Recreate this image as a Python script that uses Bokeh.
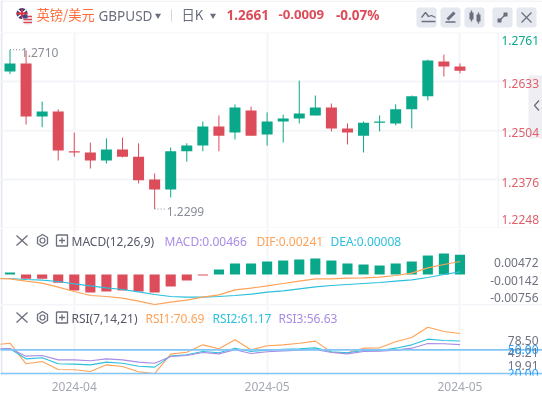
from bokeh.embed import file_html
from bokeh.resources import INLINE
from bokeh.plotting import figure
from bokeh.layouts import column
from bokeh.models import Range1d, FixedTicker, LinearAxis
from bokeh.core.properties import value

# ---------- data ----------
opens  = [1.2659,1.2680,1.2541,1.2554,1.2450,1.2447,1.2426,1.2455,1.2436,1.2376,1.2350,1.2450,1.2465,1.2515,1.2499,1.2557,1.2494,1.2528,1.2536,1.2544,1.2565,1.2510,1.2491,1.2525,1.2523,1.2560,1.2594,1.2685,1.2672]
closes = [1.2680,1.2541,1.2554,1.2452,1.2447,1.2426,1.2455,1.2436,1.2374,1.2350,1.2450,1.2465,1.2515,1.2491,1.2565,1.2491,1.2528,1.2536,1.2549,1.2565,1.2510,1.2499,1.2525,1.2528,1.2560,1.2594,1.2688,1.2672,1.2661]
highs  = [1.2716,1.2714,1.2580,1.2560,1.2499,1.2473,1.2484,1.2486,1.2471,1.2392,1.2460,1.2471,1.2528,1.2544,1.2573,1.2567,1.2552,1.2546,1.2635,1.2596,1.2575,1.2523,1.2528,1.2544,1.2573,1.2596,1.2690,1.2703,1.2680]
lows   = [1.2652,1.2520,1.2513,1.2426,1.2436,1.2405,1.2418,1.2434,1.2366,1.2299,1.2329,1.2423,1.2450,1.2450,1.2481,1.2491,1.2465,1.2473,1.2523,1.2544,1.2502,1.2468,1.2447,1.2502,1.2518,1.2510,1.2583,1.2646,1.2654]

macd_hist = [0.00047,-0.00101,-0.00101,-0.00196,-0.00378,-0.00425,-0.00401,-0.00378,-0.00401,-0.00425,-0.00283,-0.00142,-0.00024,0.00118,0.0026,0.0026,0.00307,0.0033,0.00354,0.00378,0.0033,0.0026,0.00236,0.00212,0.0026,0.00307,0.00448,0.00496,0.00466]
dif = [-0.00094,-0.00102,-0.00157,-0.00205,-0.00299,-0.00401,-0.00496,-0.00519,-0.00559,-0.0063,-0.00708,-0.00653,-0.00606,-0.00535,-0.0048,-0.00362,-0.00323,-0.00268,-0.00212,-0.00157,-0.00102,-0.00102,-0.00087,-0.00079,-0.00063,-0.00024,0.00031,0.00157,0.00236,0.00307]
dea = [-0.00094,-0.00094,-0.00118,-0.00134,-0.00165,-0.0022,-0.00268,-0.00315,-0.00354,-0.00409,-0.00472,-0.00519,-0.00535,-0.00535,-0.00519,-0.00496,-0.00464,-0.00417,-0.00386,-0.00338,-0.00291,-0.0026,-0.00236,-0.00212,-0.00189,-0.00157,-0.00126,-0.00071,0.0,0.00063]

rsi1 = [56.3,58.4,32.3,35.2,25.1,24.7,22.6,31.0,28.9,22.2,19.91,44.5,47.0,56.3,51.3,62.7,50.0,55.1,56.3,58.4,61.0,47.0,46.2,52.1,52.5,60.1,65.6,78.5,73.2,70.69]
rsi2 = [50.4,51.3,38.6,39.9,32.3,31.9,31.0,34.4,33.1,29.3,28.1,42.0,43.7,47.9,46.2,52.1,47.9,49.6,50.8,51.3,52.5,47.5,46.2,49.2,49.2,52.1,56.3,63.5,61.8,61.17]
rsi3 = [50.8,51.7,42.0,42.8,37.3,37.3,36.1,38.6,37.3,34.4,33.1,41.6,42.8,46.6,44.9,50.0,45.4,47.5,48.7,49.6,50.4,46.6,44.9,47.9,48.3,49.6,52.1,58.0,57.6,56.63]
rsi_levels = [50.0, 20.0]

price_ticks  = [1.2761,1.2633,1.2504,1.2376,1.2248]
price_labels = ["1.2761","1.2633","1.2504","1.2376","1.2248"]
macd_labels  = ["0.00472","-0.00142","-0.00756"]
rsi_ticks    = [78.50,49.21,19.91]
rsi_labels   = ["78.50","49.21","19.91"]
date_ticks   = [4,16,28]
date_labels  = ["2024-04","2024-05","2024-05"]
idx = list(range(29))
idx_line = list(range(-1,29))

# ---------- style ----------
W = 542
FONT = "Noto Sans"
GREEN, RED = "#0aa88a", "#dc4c5a"
GRID = "#f4f5f8"
ICON = "#6b6e7c"
TXT = "#8a8d99"
AXIS_TXT = "#6f7280"
ORANGE, CYAN, PURPLE = "#ffa258", "#2cc0dc", "#a98ce6"
BLUE = "#82c6f8"
xr = Range1d(-0.5912, 33.136)

def panel(h, yr, top_px, bot_px, grid=True, border_bottom=0):
    p = figure(width=W, height=h, x_range=xr, y_range=yr, output_backend="svg",
               toolbar_location=None, x_axis_location=None, y_axis_location=None,
               min_border_left=0, min_border_right=0, min_border_top=0,
               min_border_bottom=border_bottom, outline_line_color=None,
               background_fill_color="white", border_fill_color="white")
    p.extra_x_ranges["px"] = Range1d(0, W)
    p.extra_y_ranges["px"] = Range1d(bot_px, top_px)
    if grid:
        p.xgrid.ticker = FixedTicker(ticks=date_ticks)
        p.xgrid.grid_line_color = GRID
        p.xgrid.grid_line_width = 2
    else:
        p.xgrid.grid_line_color = None
    p.ygrid.grid_line_color = None
    return p

def txt(p, x, y, s, color, size="12px", bold=False, align="left", font=FONT):
    p.text([x],[y],text=[s],text_color=color,text_font=value(font),text_font_size=value(size),
           text_baseline="middle",text_align=align,text_font_style="bold" if bold else "normal",
           x_range_name="px",y_range_name="px")

def hline(p, x0, x1, y, color, w=1, dash="solid"):
    p.line([x0,x1],[y,y],line_color=color,line_width=w,line_dash=dash,x_range_name="px",y_range_name="px")

def box(p, x0, y0, x1, y1, color):
    p.quad(left=[x0],right=[x1],top=[y0],bottom=[y1],fill_color=color,line_color=None,x_range_name="px",y_range_name="px")

def poly(p, xs, ys, color=ICON, w=1.3):
    p.line(xs,ys,line_color=color,line_width=w,x_range_name="px",y_range_name="px")

def panel_icons(p, cy):
    poly(p,[16,27],[cy-5,cy+5]); poly(p,[16,27],[cy+5,cy-5])
    poly(p,[42,47,47,42,37,37,42],[cy-6,cy-3,cy+3,cy+6,cy+3,cy-3,cy-6])
    p.scatter([42],[cy],size=5,marker="circle",fill_color=None,line_color=ICON,line_width=1.2,x_range_name="px",y_range_name="px")
    poly(p,[56,67,67,56,56],[cy-5.5,cy-5.5,cy+5.5,cy+5.5,cy-5.5])
    poly(p,[58.5,64.5],[cy,cy]); poly(p,[61.5,61.5],[cy-3,cy+3])

def button(p, x0, y0, x1, y1, color, rad=3):
    box(p,x0+rad,y0,x1-rad,y1,color)
    box(p,x0,y0+rad,x1,y1-rad,color)
    p.scatter([x0+rad,x1-rad,x0+rad,x1-rad],[y0+rad,y0+rad,y1-rad,y1-rad],size=2*rad,marker="circle",
              fill_color=color,line_color=None,x_range_name="px",y_range_name="px")

# ---------- header ----------
hd = panel(32, Range1d(32,0), 0, 32, grid=False)
box(hd,0,0,W,1,"#e6e9f2")
box(hd,0,0,2,32,"#e6e9f2")
hd.scatter([21.5],[13],size=11,marker="circle",fill_color="#2a3f7e",line_color=None,x_range_name="px",y_range_name="px")
poly(hd,[17,26],[9,17],"white",1.6); poly(hd,[17,26],[17,9],"white",1.6)
poly(hd,[16,27],[13,13],"#e0303e",1.8); poly(hd,[21.5,21.5],[8,18],"#e0303e",1.8)
hd.scatter([27],[19.5],size=11,marker="circle",fill_color="#f4f4f6",line_color=None,x_range_name="px",y_range_name="px")
for yy in (16,19,22):
    poly(hd,[23,31.5],[yy,yy],"#d9485a",1.4)
box(hd,22.5,14.5,27,18,"#3a4a8a")
txt(hd,36,14,"英镑/美元","#ff6d3a","13.3px",font="Noto Sans CJK SC")
txt(hd,98,15.5,"GBPUSD","#6b6e7c","13.5px")
hd.scatter([157.5],[15],size=6,marker="inverted_triangle",fill_color="#6b6e7c",line_color=None,x_range_name="px",y_range_name="px")
poly(hd,[171,171],[9,21],"#d5d7e0",1)
txt(hd,181,14,"日K","#6b6e7c","13.3px",font="Noto Sans CJK SC")
hd.scatter([212.5],[15],size=6,marker="inverted_triangle",fill_color="#6b6e7c",line_color=None,x_range_name="px",y_range_name="px")
txt(hd,226,14,"1.2661",RED,"13.5px",bold=True)
txt(hd,278,14,"-0.0009",RED,"13.2px",bold=True)
txt(hd,335.5,14,"-0.07%",RED,"13.5px",bold=True)
for bx in (416,440,464,492,516):
    button(hd,bx,7,bx+20,27,"#e6e8f0")
poly(hd,[421,425,428,431,435],[17,12,16,15,17]); poly(hd,[421,435],[21,21])
poly(hd,[447,454],[19,12],ICON,3); poly(hd,[445,455],[21.5,21.5],ICON,1.5)
box(hd,469,12,473,19,ICON); poly(hd,[471,471],[10,21]); box(hd,476,14,480,21,ICON); poly(hd,[478,478],[12,23])
poly(hd,[498,506],[21,13]); box(hd,497,18,501,22,ICON); box(hd,503,12,507,16,ICON)
poly(hd,[521,531],[12,22]); poly(hd,[521,531],[22,12])

# ---------- main ----------
m = panel(196, Range1d(1.2248,1.2761), 32, 228)
box(m,0,32,2,228,"#e6e9f2")
hline(m,0,W,32,GRID,2)
hline(m,0,W,228,GRID,2)
for t in price_ticks[1:4]:
    m.line([-0.5912,33.136],[t,t],line_color=GRID,line_width=2)
poly(m,[497.7,497.7],[32,228],"#eef0f4",1)
box(m,528,75,542,138,"#eeeef3")
poly(m,[538.5,534,538.5],[100,105,110],"#6b6e7c",1.3)
cols = [GREEN if c>=o else RED for o,c in zip(opens,closes)]
m.segment(idx,highs,idx,lows,line_color=cols,line_width=1)
m.vbar(x=idx,width=0.685,top=[max(o,c) for o,c in zip(opens,closes)],
       bottom=[min(o,c) for o,c in zip(opens,closes)],fill_color=cols,line_color=None)
hi_i, lo_i = 0, 9
m.line([hi_i,hi_i+0.65],[highs[hi_i]]*2,line_color=TXT,line_width=1,line_dash="1 2")
m.line([lo_i,lo_i+0.75],[lows[lo_i]]*2,line_color=TXT,line_width=1,line_dash="1 2")
m.text([hi_i+0.68],[1.2710],text=["1.2710"],text_color=TXT,text_font=value(FONT),text_font_size=value("12px"),text_baseline="middle",y_offset=1)
m.text([lo_i+0.75],[lows[lo_i]],text=["1.2299"],text_color=TXT,text_font=value(FONT),text_font_size=value("12px"),text_baseline="middle",y_offset=2)
pcols = [GREEN,"#e0606c","#e0606c","#e0606c","#e0606c"]
offs = [8,1.7,2,2.7,-9]
m.text([538.5]*5,price_ticks,text=price_labels,text_color=pcols,text_font=value(FONT),text_font_size=value("12px"),
       text_align="right",text_baseline="middle",y_offset=offs,x_range_name="px")

# ---------- MACD ----------
c = panel(77, Range1d(-0.00732,0.01086), 228, 305)
box(c,0,228,2,305,"#e6e9f2")
hline(c,0,W,304.5,GRID,2)
hcols = [GREEN if v>=0 else RED for v in macd_hist]
c.vbar(x=idx,width=0.63,top=macd_hist,bottom=0,fill_color=hcols,line_color=None)
c.line(idx_line,dea,line_color=CYAN,line_width=1.2)
c.line(idx_line,dif,line_color=ORANGE,line_width=1.2)
panel_icons(c,240)
txt(c,71,240.5,"MACD(12,26,9)","#55586a")
txt(c,164,240.5,"MACD:0.00466",PURPLE)
txt(c,256,240.5,"DIF:0.00241",ORANGE)
txt(c,330,240.5,"DEA:0.00008",CYAN)
for lab, yy in zip(macd_labels,[262,280,297]):
    txt(c,538,yy,lab,AXIS_TXT,align="right")

# ---------- RSI ----------
r = panel(90, Range1d(17.5,106.1), 305, 375, border_bottom=20)
box(r,0,305,2,375,"#e6e9f2")
hline(r,0,W,305,GRID,1)
hline(r,0,W,375,GRID,1.5)
r.line(idx_line,rsi1,line_color=ORANGE,line_width=1.1)
r.line(idx_line,rsi2,line_color=CYAN,line_width=1.1)
r.line(idx_line,rsi3,line_color=PURPLE,line_width=1.1)
for lv in rsi_levels:
    r.line([-0.5912,33.136],[lv,lv],line_color=BLUE,line_width=1.7)
panel_icons(r,317)
txt(r,71,317.5,"RSI(7,14,21)","#55586a")
txt(r,145,317.5,"RSI1:70.69",ORANGE)
txt(r,212,317.5,"RSI2:61.17",CYAN)
txt(r,278,317.5,"RSI3:56.63",PURPLE)
r.text([538]*3,rsi_ticks,text=rsi_labels,text_color=AXIS_TXT,text_font=value(FONT),text_font_size=value("12px"),
       text_align="right",text_baseline="middle",y_offset=[13,2,-8],x_range_name="px")
r.text([538]*2,rsi_levels,text=["50.00","20.00"],text_color="#2f9ff5",text_font=value(FONT),text_font_size=value("12px"),
       text_align="right",text_baseline="middle",y_offset=[0,0],x_range_name="px")
ax = LinearAxis(ticker=FixedTicker(ticks=date_ticks),
                major_label_overrides=dict(zip(date_ticks,date_labels)),
                axis_line_color=None,major_tick_line_color=None,minor_tick_line_color=None,
                major_label_text_color="#a5a8b3",major_label_text_font=FONT,major_label_text_font_size="12px",
                major_label_standoff=0)
r.add_layout(ax,"below")

page = column(hd,m,c,r,spacing=0,styles={"position":"fixed","left":"0","top":"0"})
open("out.html","w").write(file_html(page,INLINE))
